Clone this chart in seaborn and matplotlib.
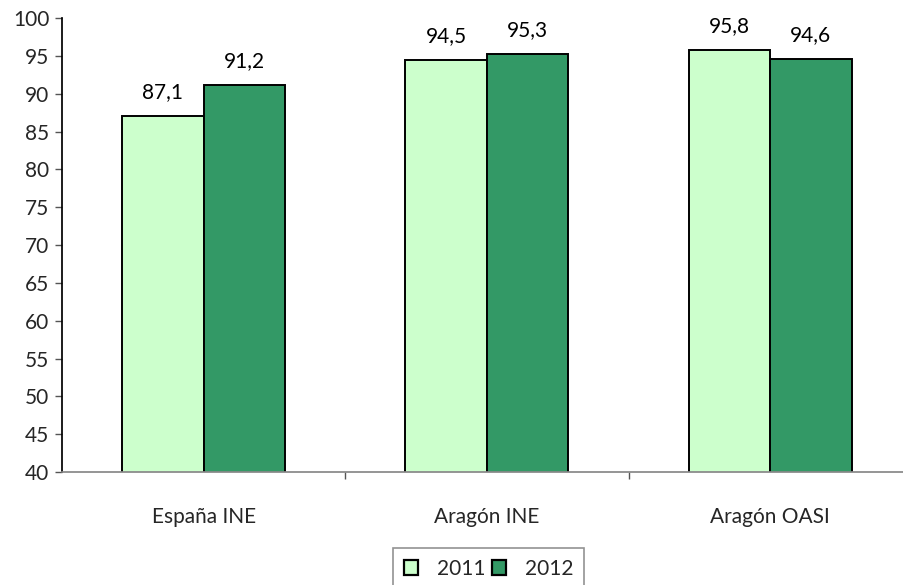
import matplotlib as mpl
mpl.use('Agg')
import matplotlib.pyplot as plt
import seaborn as sns
import pandas as pd
from matplotlib.patches import Patch

categories = ['España INE', 'Aragón INE', 'Aragón OASI']
years = ['2011', '2012']
values_2011 = [87.1, 94.5, 95.8]
values_2012 = [91.2, 95.3, 94.6]

colors = {'2011': '#CCFFCC', '2012': '#339966'}

rows = []
for i, cat in enumerate(categories):
  rows.append({'cat': cat, 'year': '2011', 'value': values_2011[i]})
  rows.append({'cat': cat, 'year': '2012', 'value': values_2012[i]})
df = pd.DataFrame(rows)

sns.set_theme(style='white')
plt.rcParams['font.family'] = ['Lato', 'DejaVu Sans']
fs = 15

fig = plt.figure(figsize=(9.04, 5.85), dpi=100)
ax = fig.add_axes([0.0686, 0.193, 0.94, 0.776])

sns.barplot(data=df, x='cat', y='value', hue='year', palette=colors, saturation=1,
            width=0.575, edgecolor='black', linewidth=1.4, legend=False, ax=ax)
ax.set_ylim(40, 100)
ax.set_xlim(-0.5, 2.5)
ax.set_yticks(range(40, 101, 5))
ax.set_xlabel('')
ax.set_ylabel('')

for cont in ax.containers:
  labels = [f'{v:.1f}'.replace('.', ',') for v in cont.datavalues]
  ax.bar_label(cont, labels=labels, padding=10, fontsize=fs, color='black')

for s in ['top', 'right']:
  ax.spines[s].set_visible(False)
ax.spines['left'].set_color('black')
ax.spines['bottom'].set_color('#888888')

ax.tick_params(axis='y', which='major', left=True, length=5, width=1, color='#555555', labelsize=fs, pad=4)
ax.tick_params(axis='x', which='major', length=0, labelsize=fs, pad=25)
ax.set_xticks([0.5, 1.5], minor=True)
ax.tick_params(axis='x', which='minor', bottom=True, length=5, width=1, color='#555555')

handles = [Patch(facecolor=colors[y], edgecolor='black', linewidth=1.6) for y in years]
leg = fig.legend(handles, years, loc='upper left', bbox_to_anchor=(0.435, 0.063),
                 ncol=2, frameon=True, fancybox=False, fontsize=fs,
                 handlelength=0.7, handleheight=0.7, handletextpad=0.9,
                 columnspacing=0.3, borderpad=0.5, borderaxespad=0)
leg.get_frame().set_edgecolor('#777777')
leg.get_frame().set_linewidth(1.2)

fig.savefig('out.png', dpi=100)
